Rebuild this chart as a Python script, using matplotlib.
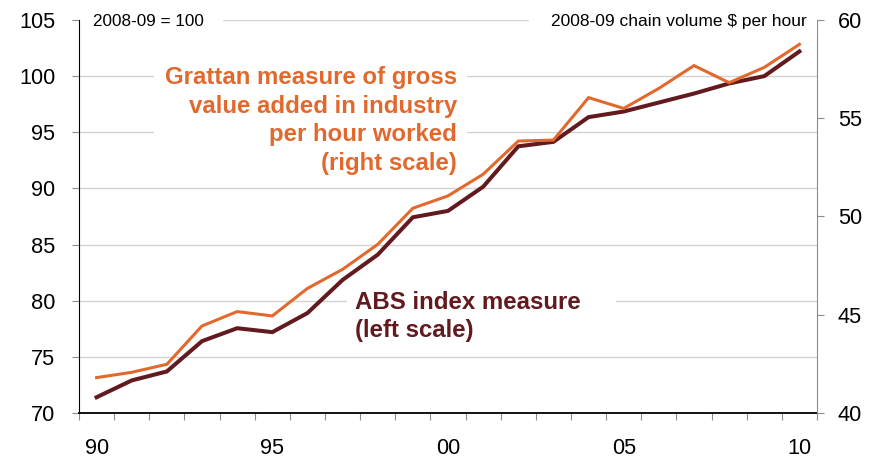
import matplotlib.pyplot as plt
from matplotlib.patches import Rectangle
import numpy as np

plt.rcParams['font.family'] = ['Liberation Sans', 'DejaVu Sans']

# Data, financial years 1989-90 .. 2009-10
years = ['90', '91', '92', '93', '94', '95', '96', '97', '98', '99',
         '00', '01', '02', '03', '04', '05', '06', '07', '08', '09', '10']
abs_index = [71.4, 72.9, 73.7, 76.4, 77.55, 77.2, 78.9, 81.85, 84.1, 87.43,
             88.0, 90.15, 93.75, 94.15, 96.35, 96.85, 97.65, 98.45, 99.35, 100.0, 102.2]
grattan = [41.8, 42.07, 42.48, 44.43, 45.16, 44.94, 46.34, 47.31, 48.58, 50.42,
           51.05, 52.15, 53.84, 53.89, 56.05, 55.5, 56.52, 57.68, 56.81, 57.59, 58.76]
left_ticks = [70, 75, 80, 85, 90, 95, 100, 105]
right_ticks = [40, 45, 50, 55, 60]
shown_labels = ['90', '95', '00', '05', '10']

dark = '#621a1e'
orange = '#e2692d'
tick_grey = '#8c8c8c'

fig = plt.figure(figsize=(8.84, 4.62), dpi=100)
ax = fig.add_axes([0.0894, 0.1061, 0.8348, 0.8506])
ax2 = ax.twinx()

x = np.arange(len(years))

ax.plot(x, abs_index, color=dark, lw=2.9, zorder=2, solid_joinstyle='miter')
ax2.plot(x, grattan, color=orange, lw=2.2, zorder=2, solid_joinstyle='miter')

ax.set_xlim(-0.5, len(years) - 0.5)
ax.set_ylim(70, 105)
ax2.set_ylim(40, 60)

# grid
ax.set_axisbelow(True)
ax.set_yticks(left_ticks)
ax.yaxis.grid(True, color='#d2d2d2', lw=1.0)
ax.tick_params(axis='y', direction='out', length=5, color=tick_grey,
               labelsize=15.7, pad=12)
ax2.set_yticks(right_ticks)
ax2.tick_params(axis='y', direction='out', length=5, color=tick_grey,
                labelsize=15.7, pad=10)

# x axis: ticks between categories, labels every fifth year
ax.set_xticks(np.arange(-0.5, len(years)), labels=[])
ax.tick_params(axis='x', which='major', direction='out', length=5, color=tick_grey)
lab_pos = [years.index(s) for s in shown_labels]
ax.set_xticks(lab_pos, labels=shown_labels, minor=True)
ax.tick_params(axis='x', which='minor', length=0, labelsize=15.7, pad=18)

for a in (ax, ax2):
    a.spines['top'].set_visible(False)
ax.spines['right'].set_visible(False)
ax2.spines['left'].set_visible(False)
ax2.spines['bottom'].set_visible(False)
ax.spines['left'].set_color('black')
ax.spines['bottom'].set_color('black')
ax.spines['bottom'].set_linewidth(1.3)
ax2.spines['right'].set_color(tick_grey)

# white boxes behind text (hide gridlines)
ax.add_patch(Rectangle((0.0, 0.975), 0.195, 0.046, transform=ax.transAxes,
                       facecolor='white', edgecolor='none', zorder=1, clip_on=False))
ax.add_patch(Rectangle((0.1016, 0.593), 0.4241, 0.305, transform=ax.transAxes,
                       facecolor='white', edgecolor='none', zorder=1))
ax.add_patch(Rectangle((0.3631, 0.173), 0.3645, 0.153, transform=ax.transAxes,
                       facecolor='white', edgecolor='none', zorder=1))
ax2.add_patch(Rectangle((0.6098, 0.9567), 0.3902, 0.064, transform=ax2.transAxes,
                        facecolor='white', edgecolor='none', zorder=3, clip_on=False))

ax.text(0.019, 0.995, '2008-09 = 100', transform=ax.transAxes, fontsize=12.3,
        ha='left', va='center', zorder=1.2)
ax2.text(0.9864, 0.995, '2008-09 chain volume $ per hour', transform=ax2.transAxes,
         fontsize=12.5, ha='right', va='center', zorder=4)

ax2.text(0.512, 0.7443, 'Grattan measure of gross\nvalue added in industry\nper hour worked\n(right scale)',
         transform=ax2.transAxes, fontsize=17.3, fontweight='bold', color=orange,
         ha='right', va='center', multialignment='right', linespacing=1.33, zorder=4)
ax2.text(0.374, 0.2455, 'ABS index measure\n(left scale)', transform=ax2.transAxes,
         fontsize=17.3, fontweight='bold', color=dark, ha='left', va='center',
         multialignment='left', linespacing=1.33, zorder=4)

fig.savefig('out.png', dpi=100)
